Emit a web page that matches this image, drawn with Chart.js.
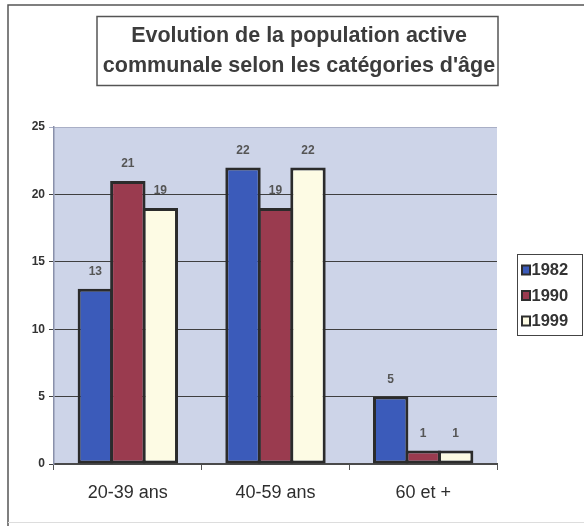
<!DOCTYPE html>
<html>
<head>
<meta charset="utf-8">
<script src="https://cdn.jsdelivr.net/npm/chart.js@4/dist/chart.umd.min.js"></script>
<style>
  html, body { margin: 0; padding: 0; background: #ffffff; }
  #wrap { width: 584px; height: 526px; position: relative; }
  canvas { display: block; }
</style>
</head>
<body>
<div id="wrap"><canvas id="c" width="584" height="526"></canvas></div>
<script>
// Age groups and active population per census year
const categories = ['20-39 ans', '40-59 ans', '60 et +'];
const years = ['1982', '1990', '1999'];
const values1982 = [13, 22, 5];
const values1990 = [21, 19, 1];
const values1999 = [19, 22, 1];
const yTicks = [0, 5, 10, 15, 20, 25];
const titleLines = ['Evolution de la population active', "communale selon les catégories d'âge"];

const seriesColors = ['#3b5bba', '#9a3b4f', '#fdfbe4'];
const FONT = '"Liberation Sans", Arial, Helvetica, sans-serif';

// Page frame and boxed title
const framePlugin = {
  id: 'frame',
  beforeDraw(chart) {
    const ctx = chart.ctx;
    const a = chart.chartArea;
    ctx.save();
    ctx.fillStyle = '#ffffff';
    ctx.fillRect(0, 0, chart.width, chart.height);
    // plot background
    ctx.fillStyle = '#cdd4e8';
    ctx.fillRect(a.left, a.top, a.right - a.left, a.bottom - a.top);
    ctx.restore();
  },
  afterDraw(chart) {
    const ctx = chart.ctx;
    ctx.save();
    // outer border
    ctx.strokeStyle = '#555555';
    ctx.lineWidth = 1.5;
    ctx.beginPath();
    ctx.moveTo(8, 526);
    ctx.lineTo(8, 5);
    ctx.lineTo(584, 5);
    ctx.stroke();
    ctx.strokeStyle = '#dddddd';
    ctx.lineWidth = 1;
    ctx.beginPath();
    ctx.moveTo(8, 522.5);
    ctx.lineTo(584, 522.5);
    ctx.stroke();
    // title box
    ctx.strokeStyle = '#555555';
    ctx.lineWidth = 1.5;
    ctx.strokeRect(97, 16.5, 401, 69);
    ctx.fillStyle = '#3c3c3c';
    ctx.font = 'bold 21.5px ' + FONT;
    ctx.textAlign = 'center';
    ctx.textBaseline = 'middle';
    ctx.fillText(titleLines[0], 299, 36);
    ctx.fillText(titleLines[1], 299, 66);
    ctx.restore();
  }
};

// Value above each bar
const valueLabels = {
  id: 'valueLabels',
  afterDatasetsDraw(chart) {
    const ctx = chart.ctx;
    ctx.save();
    ctx.fillStyle = '#555555';
    ctx.font = 'bold 12px ' + FONT;
    ctx.textAlign = 'center';
    ctx.textBaseline = 'middle';
    chart.data.datasets.forEach((ds, i) => {
      const meta = chart.getDatasetMeta(i);
      meta.data.forEach((el, j) => {
        ctx.fillText(String(ds.data[j]), el.x, el.y - 17);
      });
    });
    ctx.restore();
  }
};

// Boxed legend at the right
const boxLegend = {
  id: 'boxLegend',
  afterDraw(chart) {
    const ctx = chart.ctx;
    const left = 517.5, top = 254.5, w = 65, h = 81;
    ctx.save();
    ctx.strokeStyle = '#444444';
    ctx.lineWidth = 1;
    ctx.strokeRect(left, top, w, h);
    ctx.font = 'bold 16.5px ' + FONT;
    ctx.textAlign = 'left';
    ctx.textBaseline = 'middle';
    chart.data.datasets.forEach((ds, i) => {
      const cy = 270 + i * 25.5;
      ctx.fillStyle = ds.backgroundColor;
      ctx.fillRect(522, cy - 4.5, 8, 9);
      ctx.strokeStyle = '#2e2e2e';
      ctx.lineWidth = 2;
      ctx.strokeRect(522, cy - 4.5, 8, 9);
      ctx.fillStyle = '#333333';
      ctx.fillText(ds.label, 531.5, cy + 0.5);
    });
    ctx.restore();
  }
};

const seriesValues = [values1982, values1990, values1999];

new Chart(document.getElementById('c'), {
  type: 'bar',
  data: {
    labels: categories,
    datasets: years.map((y, i) => ({
      label: y,
      data: seriesValues[i],
      backgroundColor: seriesColors[i],
      borderColor: '#2b2b2b',
      borderWidth: 3,
      borderSkipped: false,
      categoryPercentage: 0.66,
      barPercentage: 1.09
    }))
  },
  options: {
    responsive: false,
    devicePixelRatio: 1,
    animation: false,
    layout: { padding: { top: 127, right: 87, bottom: 0, left: 0 } },
    plugins: {
      legend: { display: false },
      title: { display: false },
      tooltip: { enabled: false }
    },
    scales: {
      x: {
        offset: true,
        grid: {
          display: true,
          drawOnChartArea: false,
          drawTicks: true,
          tickLength: 6,
          color: '#555555',
          offset: true
        },
        border: { display: true, color: '#4a4a4a', width: 2 },
        ticks: {
          color: '#2e2e2e',
          font: { family: FONT, size: 18 },
          padding: 12
        },
        afterFit(scale) { scale.height = 62; }
      },
      y: {
        min: 0,
        max: 25,
        afterBuildTicks(scale) { scale.ticks = yTicks.map(v => ({ value: v })); },
        grid: {
          color: ctx => (ctx.tick && ctx.tick.value === 25) ? '#a9afc6' : '#3f3f3f',
          lineWidth: 1,
          tickLength: 5,
          drawTicks: true
        },
        border: { display: true, color: '#8a90aa', width: 1.5 },
        ticks: {
          color: '#333333',
          font: { family: FONT, size: 12, weight: 'bold' },
          padding: 4
        },
        afterFit(scale) { scale.width = 54; }
      }
    }
  },
  plugins: [framePlugin, valueLabels, boxLegend]
});
</script>
</body>
</html>
